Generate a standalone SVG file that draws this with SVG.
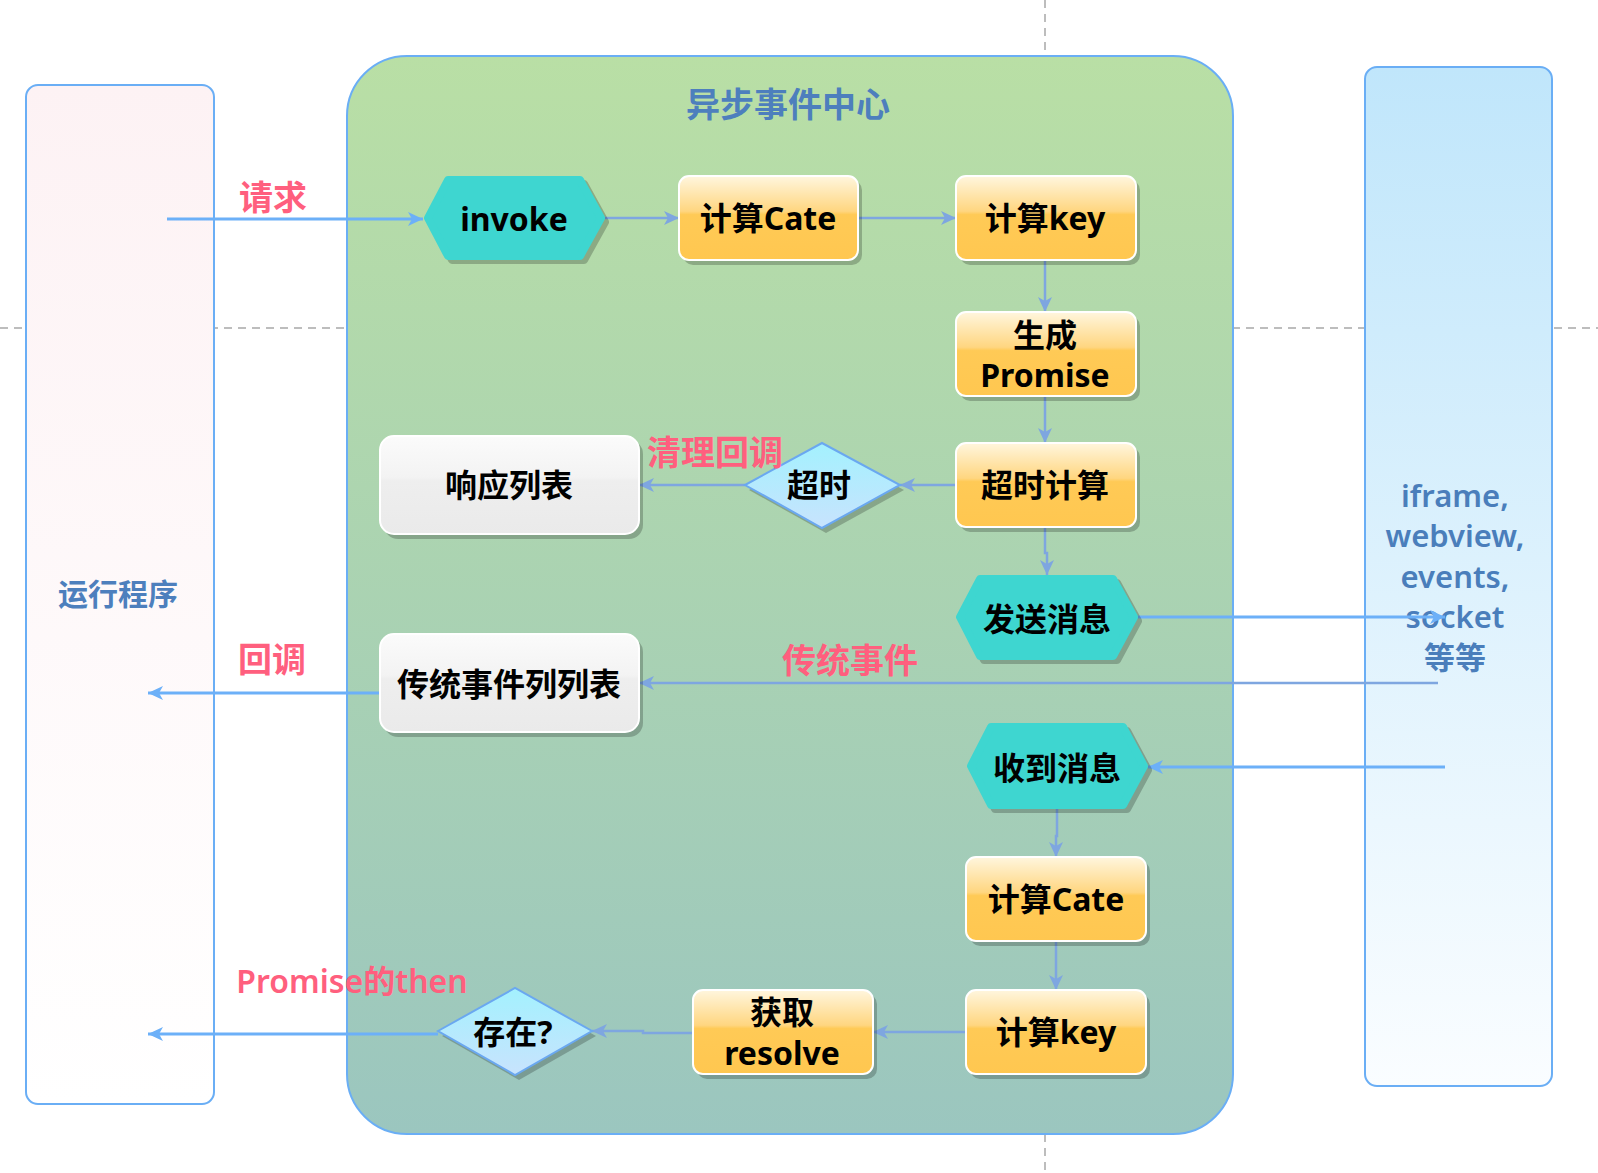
<svg xmlns="http://www.w3.org/2000/svg" width="1598" height="1173" viewBox="0 0 1598 1173">
<defs>
<style>
.dash{stroke:#bdbdbd;stroke-width:2;stroke-dasharray:8 6;fill:none}
.panel{stroke:#6aaef5;stroke-width:2}
.orange{fill:url(#gOrange);stroke:#ffffff;stroke-width:2}
.gray{fill:url(#gGray);stroke:#ffffff;stroke-width:2}
.hex{fill:#3ed6d0;stroke:#3ed6d0;stroke-width:8;stroke-linejoin:round}
.dia{fill:url(#gDia);stroke:#6aa8f0;stroke-width:2}
.sh{fill:#000;opacity:0.22}
.shhex{fill:#000;opacity:0.22;stroke:#000;stroke-width:8;stroke-linejoin:round;stroke-opacity:1}
.t{font-family:"Noto Sans","Noto Sans CJK SC",sans-serif;font-weight:bold;font-size:32px;fill:#000;text-anchor:middle}
.pink{font-family:"Noto Sans","Noto Sans CJK SC",sans-serif;font-weight:bold;font-size:34px;fill:#ff5f7e;text-anchor:middle}
.pinkn{font-family:"Noto Sans","Noto Sans CJK SC",sans-serif;font-weight:600;font-size:32px;fill:#ff5f7e;text-anchor:middle}
.blue{font-family:"Noto Sans","Noto Sans CJK SC",sans-serif;font-weight:bold;fill:#4d7fbd;text-anchor:middle}
.side{font-family:"Noto Sans","Noto Sans CJK SC",sans-serif;font-weight:600;font-size:31px;fill:#4a7ebb;text-anchor:middle}
.cOut{stroke:#6cb0f8;stroke-width:3;fill:none;marker-end:url(#mOut)}
.cIn{stroke:#7ea6e0;stroke-width:2.5;fill:none;marker-end:url(#mIn)}
</style>
<linearGradient id="gLeft" x1="0" y1="0" x2="0" y2="1"><stop offset="0" stop-color="#fdf2f4"/><stop offset="1" stop-color="#ffffff"/></linearGradient>
<linearGradient id="gRight" x1="0" y1="0" x2="0" y2="1"><stop offset="0" stop-color="#c0e6fb"/><stop offset="1" stop-color="#fafdff"/></linearGradient>
<linearGradient id="gGreen" x1="0" y1="0" x2="0" y2="1"><stop offset="0" stop-color="#b9dfa5"/><stop offset="1" stop-color="#9bc6bf"/></linearGradient>
<linearGradient id="gOrange" x1="0" y1="0" x2="0" y2="1"><stop offset="0" stop-color="#fff6de"/><stop offset="0.42" stop-color="#ffd680"/><stop offset="0.46" stop-color="#ffca56"/><stop offset="1" stop-color="#ffc750"/></linearGradient>
<linearGradient id="gGray" x1="0" y1="0" x2="0" y2="1"><stop offset="0" stop-color="#fbfbfb"/><stop offset="0.42" stop-color="#f3f3f3"/><stop offset="0.46" stop-color="#eeeeee"/><stop offset="1" stop-color="#eaeaea"/></linearGradient>
<linearGradient id="gDia" x1="0" y1="0" x2="0" y2="1"><stop offset="0" stop-color="#a3f1fe"/><stop offset="1" stop-color="#c8e3fd"/></linearGradient>
<marker id="mOut" markerUnits="userSpaceOnUse" markerWidth="16" markerHeight="14" refX="15" refY="7" orient="auto"><path d="M0,0 L15,7 L0,14 L4,7 Z" fill="#6cb0f8"/></marker>
<marker id="mIn" markerUnits="userSpaceOnUse" markerWidth="16" markerHeight="14" refX="15" refY="7" orient="auto"><path d="M0,0 L15,7 L0,14 L4,7 Z" fill="#7ea6e0"/></marker>
</defs>
<rect width="1598" height="1173" fill="#ffffff"/>
<g id="guides">
<line class="dash" x1="0" y1="328" x2="1598" y2="328"/>
<line class="dash" x1="1045" y1="0" x2="1045" y2="1173"/>
</g>
<g id="panel-left">
<rect class="panel" x="26" y="85" width="188" height="1019" rx="12" fill="url(#gLeft)"/>
<text class="blue" x="118" y="605" font-size="30">运行程序</text>
</g>
<g id="panel-center">
<rect class="panel" x="347" y="56" width="886" height="1078" rx="60" fill="url(#gGreen)"/>
<text class="blue" x="788" y="117" font-size="34">异步事件中心</text>
</g>
<g id="panel-right">
<rect class="panel" x="1365" y="67" width="187" height="1019" rx="12" fill="url(#gRight)"/>
<text class="side" x="1455" y="507">iframe,</text>
<text class="side" x="1455" y="547">webview,</text>
<text class="side" x="1455" y="588">events,</text>
<text class="side" x="1455" y="628">socket</text>
<text class="side" x="1455" y="669" font-weight="bold">等等</text>
</g>
<g id="connectors">
<path class="cOut" d="M167,219 L423,219"/>
<path class="cIn" d="M605,218 L679,218"/>
<path class="cIn" d="M858,218 L956,218"/>
<path class="cIn" d="M1045,260 L1045,312"/>
<path class="cIn" d="M1045,396 L1045,443"/>
<path class="cIn" d="M956,485 L900,485"/>
<path class="cIn" d="M745,485 L639,485"/>
<path class="cIn" d="M1045,527 L1045,553 L1047,553 L1047,575"/>
<path class="cOut" d="M1138,617 L1445,617"/>
<path class="cIn" d="M1438,683 L639,683"/>
<path class="cOut" d="M380,693 L148,693"/>
<path class="cOut" d="M1445,767 L1148,767"/>
<path class="cIn" d="M1057,809 L1057,836 L1056,836 L1056,857"/>
<path class="cIn" d="M1056,941 L1056,990"/>
<path class="cIn" d="M966,1032 L873,1032"/>
<path class="cIn" d="M693,1033 L643,1033 L643,1031 L592,1031"/>
<path class="cOut" d="M438,1034 L148,1034"/>
</g>
<g id="node-invoke">
<polygon class="shhex" transform="translate(4,4)" points="428,218 448,180 580,180 601,218 580,256 448,256"/>
<polygon class="hex" points="428,218 448,180 580,180 601,218 580,256 448,256"/>
<text class="t" x="514" y="231">invoke</text>
</g>
<g id="node-cate1">
<rect class="sh" x="683" y="180" width="179" height="85" rx="10"/>
<rect class="orange" x="679" y="176" width="179" height="84" rx="10"/>
<text class="t" x="768" y="230">计算Cate</text>
</g>
<g id="node-key1">
<rect class="sh" x="960" y="180" width="180" height="85" rx="10"/>
<rect class="orange" x="956" y="176" width="180" height="84" rx="10"/>
<text class="t" x="1045" y="230">计算key</text>
</g>
<g id="node-promise">
<rect class="sh" x="960" y="316" width="180" height="85" rx="10"/>
<rect class="orange" x="956" y="312" width="180" height="84" rx="10"/>
<text class="t" x="1045" y="347">生成</text>
<text class="t" x="1045" y="387">Promise</text>
</g>
<g id="node-timeoutcalc">
<rect class="sh" x="960" y="447" width="180" height="85" rx="10"/>
<rect class="orange" x="956" y="443" width="180" height="84" rx="10"/>
<text class="t" x="1045" y="497">超时计算</text>
</g>
<g id="node-timeout">
<polygon class="sh" transform="translate(4,5)" points="745,485 822,443 900,485 822,528"/>
<polygon class="dia" points="745,485 822,443 900,485 822,528"/>
<text class="t" x="819" y="497">超时</text>
</g>
<g id="node-resplist">
<rect class="sh" x="384" y="440" width="259" height="99" rx="14"/>
<rect class="gray" x="380" y="436" width="259" height="98" rx="14"/>
<text class="t" x="509" y="497" font-size="33">响应列表</text>
</g>
<g id="node-send">
<polygon class="shhex" transform="translate(4,4)" points="960,617 980,579 1113,579 1134,617 1113,656 980,656"/>
<polygon class="hex" points="960,617 980,579 1113,579 1134,617 1113,656 980,656"/>
<text class="t" x="1047" y="631">发送消息</text>
</g>
<g id="node-eventlist">
<rect class="sh" x="384" y="638" width="259" height="99" rx="14"/>
<rect class="gray" x="380" y="634" width="259" height="98" rx="14"/>
<text class="t" x="509" y="696" font-size="33">传统事件列列表</text>
</g>
<g id="node-recv">
<polygon class="shhex" transform="translate(4,4)" points="971,766 991,727 1123,727 1144,766 1123,805 991,805"/>
<polygon class="hex" points="971,766 991,727 1123,727 1144,766 1123,805 991,805"/>
<text class="t" x="1057" y="780">收到消息</text>
</g>
<g id="node-cate2">
<rect class="sh" x="970" y="861" width="180" height="85" rx="10"/>
<rect class="orange" x="966" y="857" width="180" height="84" rx="10"/>
<text class="t" x="1056" y="911">计算Cate</text>
</g>
<g id="node-key2">
<rect class="sh" x="970" y="994" width="180" height="85" rx="10"/>
<rect class="orange" x="966" y="990" width="180" height="84" rx="10"/>
<text class="t" x="1056" y="1044">计算key</text>
</g>
<g id="node-resolve">
<rect class="sh" x="697" y="994" width="180" height="85" rx="10"/>
<rect class="orange" x="693" y="990" width="180" height="84" rx="10"/>
<text class="t" x="782" y="1024" font-size="31">获取</text>
<text class="t" x="782" y="1065" font-size="31">resolve</text>
</g>
<g id="node-exists">
<polygon class="sh" transform="translate(4,5)" points="438,1031 515,988 592,1031 515,1075"/>
<polygon class="dia" points="438,1031 515,988 592,1031 515,1075"/>
<text class="t" x="513" y="1044">存在?</text>
</g>
<g id="labels">
<text class="pink" x="273" y="210">请求</text>
<text class="pink" x="715" y="465">清理回调</text>
<text class="pink" x="272" y="672">回调</text>
<text class="pink" x="850" y="673">传统事件</text>
<text class="pinkn" x="352" y="993">Promise的then</text>
</g>
</svg>
